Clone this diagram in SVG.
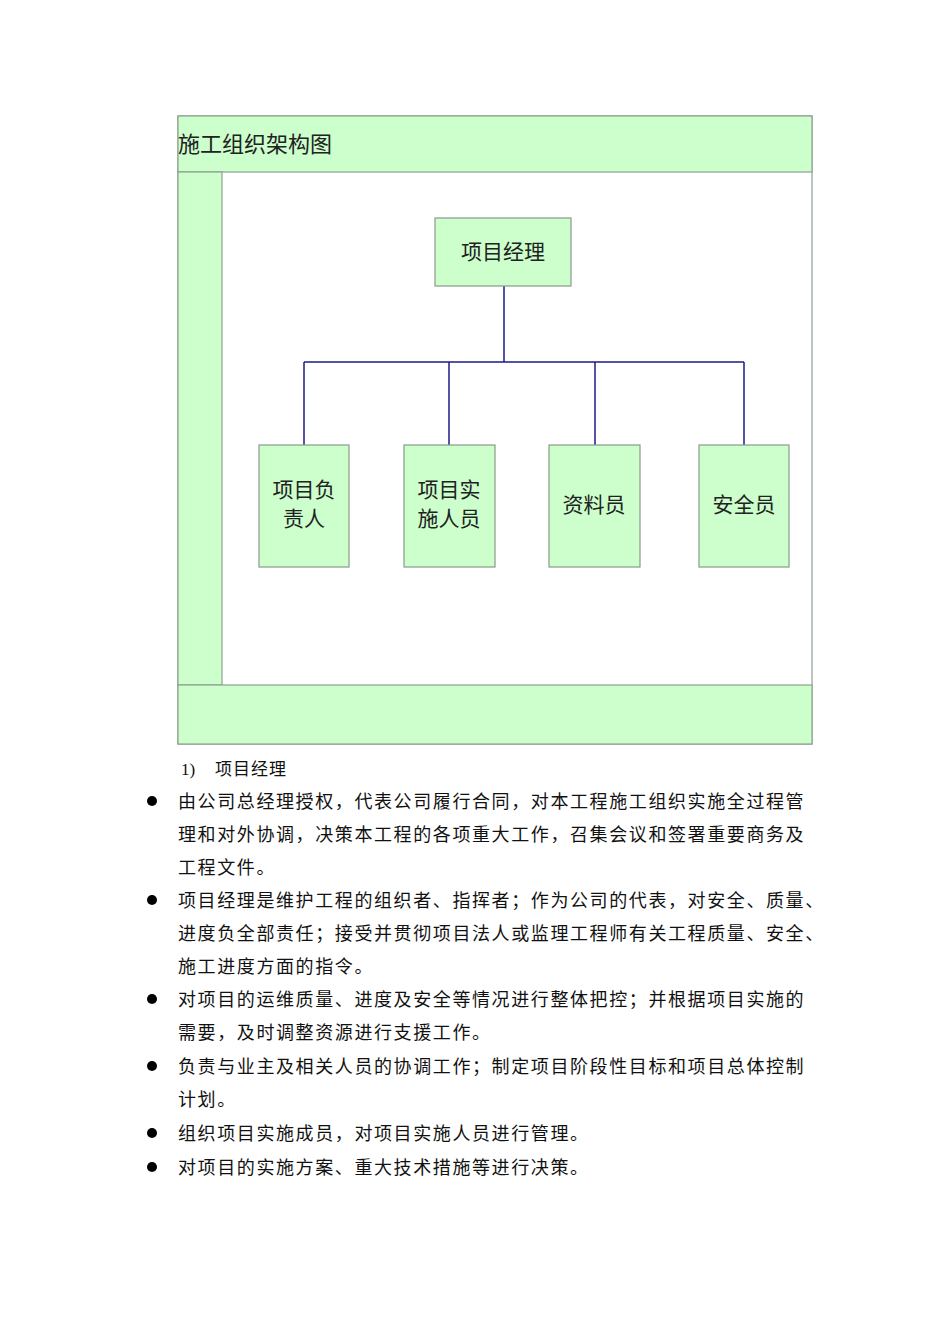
<svg xmlns="http://www.w3.org/2000/svg" width="950" height="1344" viewBox="0 0 950 1344">
<style>
.band{fill:#ccffcc;stroke:#8fa08f;stroke-width:1.2}
.box{fill:#ccffcc;stroke:#8a9a8a;stroke-width:1.2}
.lbl{font-family:"Noto Sans CJK SC",sans-serif;font-size:21px;fill:#222;text-anchor:middle}
.conn{stroke:#1c1c8a;stroke-width:1.5;fill:none}
.body{font-family:"Liberation Serif","Noto Sans CJK SC",serif;font-size:18px;fill:#111;letter-spacing:1.6px}
.dot{fill:#000}
</style>
<rect width="950" height="1344" fill="#fff"/>
<g id="frame">
<rect x="178" y="116" width="634" height="628" fill="#fff" stroke="#8fa08f" stroke-width="1.2"/>
<rect class="band" x="178" y="116" width="634" height="56"/>
<rect class="band" x="178" y="172" width="44" height="513"/>
<rect class="band" x="178" y="685" width="634" height="59"/>
<text x="178" y="152" font-family="Noto Sans CJK SC, sans-serif" font-size="22" fill="#222">施工组织架构图</text>
</g>
<g id="connectors">
<path class="conn" d="M504 286V362M304 362H744M304 362V445M449 362V445M595 362V445M744 362V445"/>
</g>
<g id="n-manager"><rect class="box" x="435" y="218" width="136" height="68"/><text class="lbl" x="503" y="259">项目经理</text></g>
<g id="n-leader"><rect class="box" x="259" y="445" width="90" height="122"/><text class="lbl" x="304" y="497">项目负</text><text class="lbl" x="304" y="526">责人</text></g>
<g id="n-impl"><rect class="box" x="404" y="445" width="91" height="122"/><text class="lbl" x="449" y="497">项目实</text><text class="lbl" x="449" y="526">施人员</text></g>
<g id="n-docs"><rect class="box" x="549" y="445" width="91" height="122"/><text class="lbl" x="594" y="512">资料员</text></g>
<g id="n-safety"><rect class="box" x="699" y="445" width="90" height="122"/><text class="lbl" x="744" y="512">安全员</text></g>
<g id="text">
<text x="181" y="775" font-family="Liberation Serif, Noto Sans CJK SC, serif" font-size="17" fill="#111">1)</text>
<text x="215" y="775" font-family="Noto Sans CJK SC, sans-serif" font-size="17" fill="#111" letter-spacing="1">项目经理</text>
<circle class="dot" cx="152" cy="801" r="5"/>
<text class="body" x="178" y="808">由公司总经理授权，代表公司履行合同，对本工程施工组织实施全过程管</text>
<text class="body" x="178" y="841">理和对外协调，决策本工程的各项重大工作，召集会议和签署重要商务及</text>
<text class="body" x="178" y="874">工程文件。</text>
<circle class="dot" cx="152" cy="900" r="5"/>
<text class="body" x="178" y="907">项目经理是维护工程的组织者、指挥者；作为公司的代表，对安全、质量、</text>
<text class="body" x="178" y="940">进度负全部责任；接受并贯彻项目法人或监理工程师有关工程质量、安全、</text>
<text class="body" x="178" y="973">施工进度方面的指令。</text>
<circle class="dot" cx="152" cy="999" r="5"/>
<text class="body" x="178" y="1006">对项目的运维质量、进度及安全等情况进行整体把控；并根据项目实施的</text>
<text class="body" x="178" y="1039">需要，及时调整资源进行支援工作。</text>
<circle class="dot" cx="152" cy="1066" r="5"/>
<text class="body" x="178" y="1073">负责与业主及相关人员的协调工作；制定项目阶段性目标和项目总体控制</text>
<text class="body" x="178" y="1106">计划。</text>
<circle class="dot" cx="152" cy="1133" r="5"/>
<text class="body" x="178" y="1140">组织项目实施成员，对项目实施人员进行管理。</text>
<circle class="dot" cx="152" cy="1167" r="5"/>
<text class="body" x="178" y="1174">对项目的实施方案、重大技术措施等进行决策。</text>
</g>
</svg>
